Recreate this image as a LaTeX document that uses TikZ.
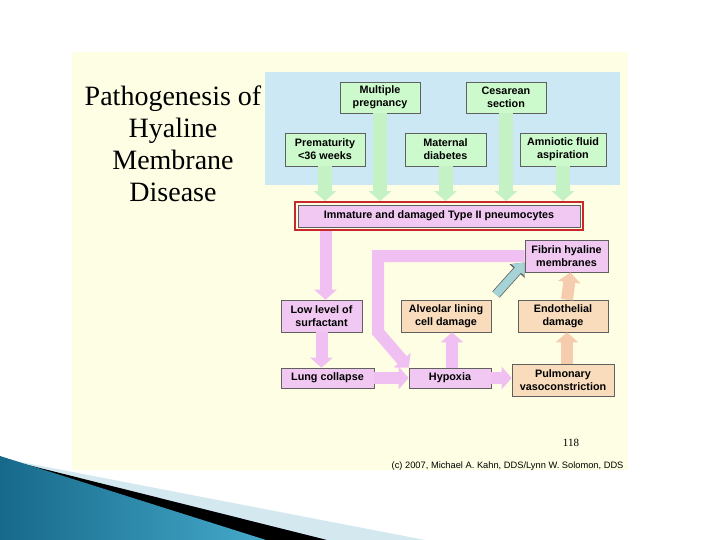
\documentclass[tikz,border=0pt]{standalone}
\usepackage{fontspec}
\setmainfont{Liberation Serif}
\setsansfont{Liberation Sans}
\usetikzlibrary{arrows.meta, positioning, fit, calc}

\definecolor{cream}{HTML}{FEFEE4}
\definecolor{skyfill}{HTML}{CCE8F5}
\definecolor{gfill}{HTML}{CCFACC}
\definecolor{pfill}{HTML}{F0C8F2}
\definecolor{ofill}{HTML}{F8DCBC}
\definecolor{garrow}{HTML}{C4F2C4}
\definecolor{parrow}{HTML}{F0C0F2}
\definecolor{oarrow}{HTML}{F5CDAE}
\definecolor{barrow}{HTML}{A6D3D6}
\definecolor{redframe}{HTML}{C8282C}
\definecolor{tealdark}{HTML}{17698A}
\definecolor{teallight}{HTML}{45AACB}
\definecolor{paleblue}{HTML}{D4E8F0}

\begin{document}
\begin{tikzpicture}[x=1pt, y=-1pt,
  font=\sffamily\bfseries\fontsize{10.8}{13}\selectfont,
  box/.style={draw=gray!75!black, line width=0.6pt, align=center, inner sep=1pt, minimum height=32pt},
  gbox/.style={box, fill=gfill},
  pbox/.style={box, fill=pfill},
  obox/.style={box, fill=ofill},
  fat/.style={line width=12pt, -{Triangle[length=10pt, width=22pt]}},
  garr/.style={fat, draw=garrow, line width=14pt},
  parr/.style={fat, draw=parrow},
  oarr/.style={fat, draw=oarrow},
  barr/.style={line width=8pt, draw=barrow, -{Triangle[length=10pt, width=17pt]},
    preaction={draw=gray!80!black, line width=9.6pt, -{Triangle[length=11.5pt, width=19.5pt]}}}]
\useasboundingbox (0,0) rectangle (720,540);
% slide background
\fill[white] (0,0) rectangle (720,540);
\fill[cream] (72,52) rectangle (628,470);
\fill[skyfill] (265,72) rectangle (620,185);
% corner decoration
\fill[paleblue] (0,458) -- (425,540) -- (0,540) -- cycle;
\fill[black] (0,458) -- (327,540) -- (0,540) -- cycle;
\shade[left color=tealdark, right color=teallight] (0,456) -- (266,540) -- (0,540) -- cycle;
% title
\node[font=\rmfamily\mdseries\fontsize{28}{32}\selectfont, align=center] (title) at (173,144)
  {Pathogenesis of\\Hyaline\\Membrane\\Disease};
% risk factors
\node[gbox, minimum width=80pt, minimum height=31pt] (mult) at (380,97.5) {Multiple\\pregnancy};
\node[gbox, minimum width=80pt, minimum height=31pt] (ces) at (506,97.5) {Cesarean\\section};
\node[gbox, minimum width=80pt, minimum height=33pt] (prem) at (325,149.5) {Prematurity\\<36 weeks};
\node[gbox, minimum width=81pt, minimum height=33pt] (diab) at (445.5,149.5) {Maternal\\diabetes};
\node[gbox, minimum width=86pt, minimum height=33pt] (amnio) at (563,149.5) {Amniotic fluid\\aspiration};
% pneumocytes
\node[pbox, minimum width=282pt, minimum height=22pt] (pneumo) at (439,216) {Immature and damaged Type II pneumocytes};
\node[draw=redframe, line width=2.2pt, fit=(pneumo), inner sep=2.5pt] (frame) {};
% consequences
\node[pbox, minimum width=83pt] (fibrin) at (566.5,256) {Fibrin hyaline\\membranes};
\node[pbox, minimum width=81pt] (low) at (321.5,316) {Low level of\\surfactant};
\node[obox, minimum width=90pt] (alv) at (446,316) {Alveolar lining\\cell damage};
\node[obox, minimum width=90pt] (endo) at (563,316) {Endothelial\\damage};
\node[pbox, minimum width=93pt, minimum height=20pt] (lung) at (327.5,378) {Lung collapse};
\node[pbox, minimum width=82pt, minimum height=20pt] (hyp) at (450,378) {Hypoxia};
\node[obox, minimum width=102pt] (pulm) at (563,380) {Pulmonary\\vasoconstriction};
\coordinate (loopx) at (378,332);
% green arrows
\draw[garr] (prem) -- (prem |- frame.north);
\draw[garr] (mult) -- (mult |- frame.north);
\draw[garr] (diab) -- (diab |- frame.north);
\draw[garr] (ces) -- (ces |- frame.north);
\draw[garr] (amnio) -- (amnio |- frame.north);
% pink arrows
\draw[parr] ([xshift=4pt]low |- frame.south) -- ([xshift=4pt]low.north);
\draw[parr] (low) -- (low |- lung.north);
\draw[parr] (lung) -- (hyp);
\draw[parr] (hyp) -- (pulm.west |- hyp);
\draw[parr] ([xshift=2pt]hyp.north) -- ([xshift=2pt]hyp.north |- alv.south);
\draw[parr, line join=miter] (fibrin.west) -| (loopx) -- (hyp.north west);
% peach arrows
\draw[oarr] ([xshift=4pt]pulm.north) -- ([xshift=4pt]endo.south);
\draw[oarr] ([xshift=4pt]endo.north) -- ([xshift=4pt]fibrin.south);
% blue arrow
\draw[barr, shorten <=7pt] (alv.north east) -- ($(fibrin.west)!0.4!(fibrin.south west)$);
% footer
\node[font=\rmfamily\mdseries\fontsize{11}{13}\selectfont] (page) at (571,443) {118};
\node[font=\sffamily\mdseries\fontsize{9.3}{11}\selectfont, anchor=east] (credit) at (627,466)
  {(c) 2007, Michael A. Kahn, DDS/Lynn W. Solomon, DDS};
\end{tikzpicture}
\end{document}
